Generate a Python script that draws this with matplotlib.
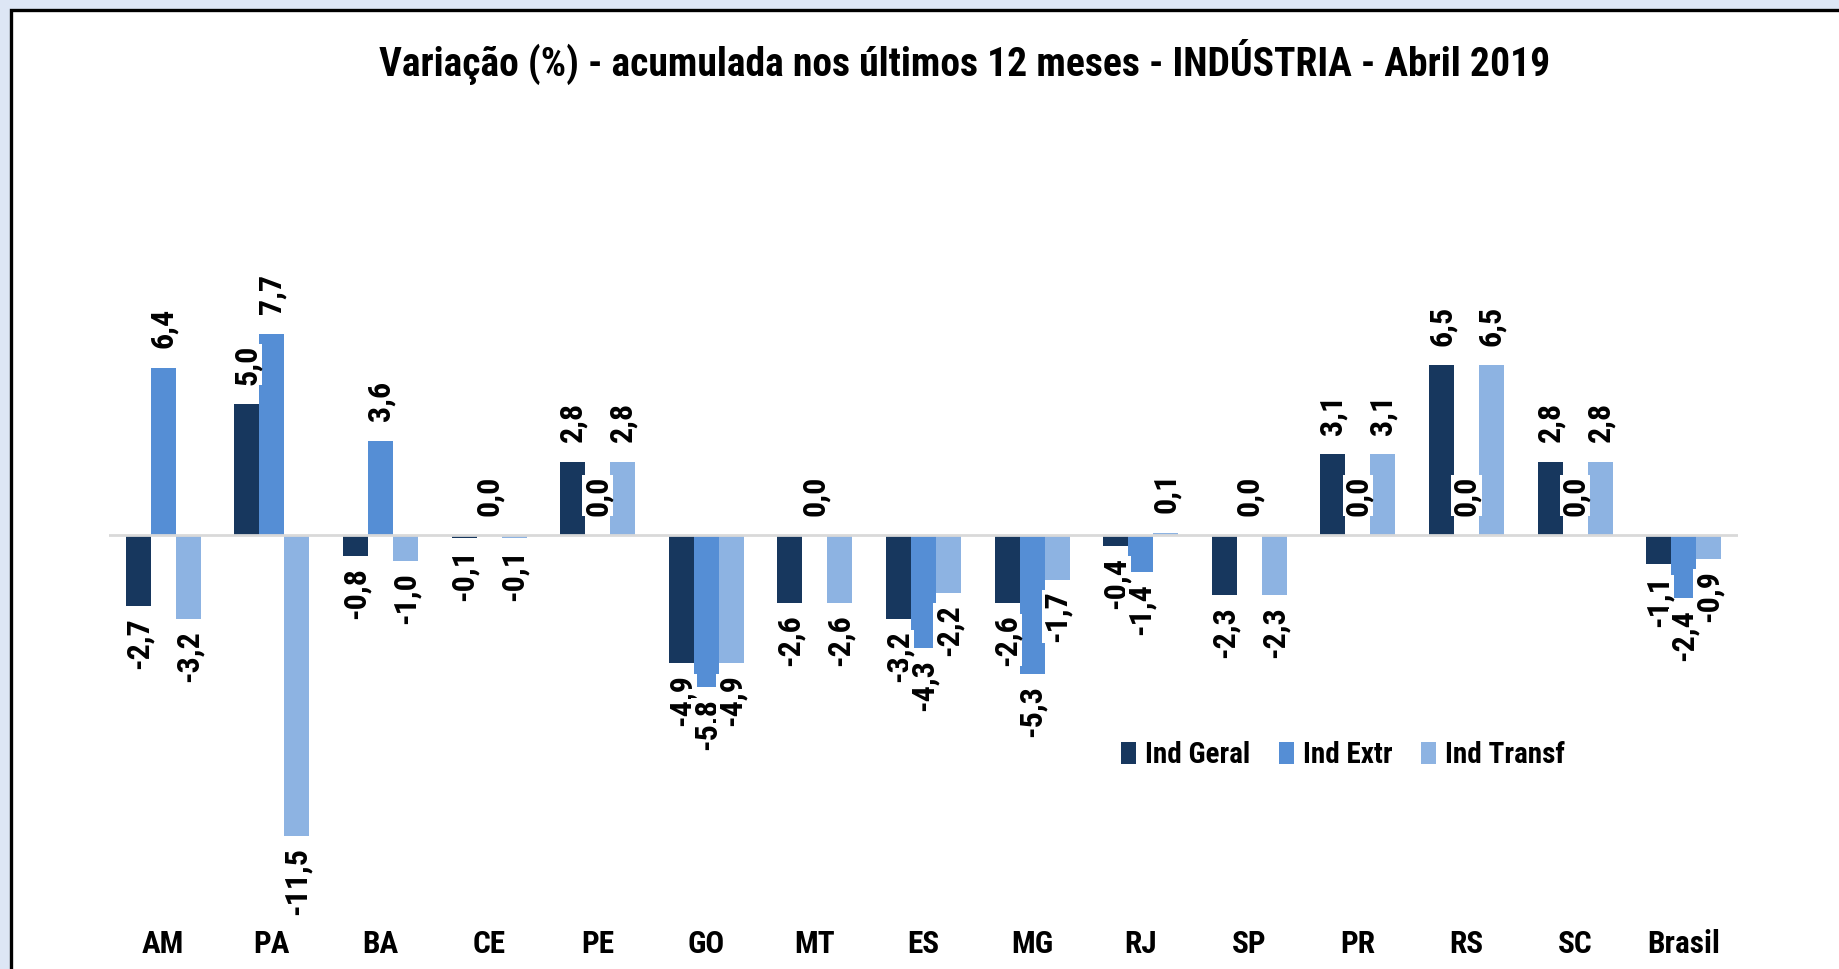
import numpy as np
import matplotlib
matplotlib.use("Agg")
import matplotlib.pyplot as plt
from matplotlib.patches import Rectangle

# dados (variação % acumulada em 12 meses)
estados = ["AM", "PA", "BA", "CE", "PE", "GO", "MT", "ES", "MG", "RJ", "SP", "PR", "RS", "SC", "Brasil"]
ind_geral = [-2.7, 5.0, -0.8, -0.1, 2.8, -4.9, -2.6, -3.2, -2.6, -0.4, -2.3, 3.1, 6.5, 2.8, -1.1]
ind_extr = [6.4, 7.7, 3.6, 0.0, 0.0, -5.8, 0.0, -4.3, -5.3, -1.4, 0.0, 0.0, 0.0, 0.0, -2.4]
ind_transf = [-3.2, -11.5, -1.0, -0.1, 2.8, -4.9, -2.6, -2.2, -1.7, 0.1, -2.3, 3.1, 6.5, 2.8, -0.9]

series = ["Ind Geral", "Ind Extr", "Ind Transf"]
cores = ["#17375e", "#558ed5", "#8db3e2"]

plt.rcParams['font.family'] = ['Liberation Sans Narrow', 'Roboto Condensed', 'Open Sans Condensed',
                               'Liberation Sans', 'DejaVu Sans']
plt.rcParams['font.stretch'] = 'condensed'

W, H = 1839, 969
fig = plt.figure(figsize=(W / 100, H / 100), dpi=100, facecolor="#dde6f5")

# moldura branca com borda preta (cortada à direita e embaixo)
fig.patches.append(Rectangle((11 / W, -0.1), 1.2, 1.1 - 10 / H, transform=fig.transFigure,
                             facecolor="white", edgecolor="black", linewidth=2.4, zorder=-1))

ax = fig.add_axes([109 / W, 1 - 925 / H, 1629 / W, 825 / H])
ax.set_facecolor("none")
ax.set_xlim(-0.5, len(estados) - 0.5)
ax.set_ylim(-14.9, 16.63)

x = np.arange(len(estados))
largura = 0.23
valores = [ind_geral, ind_extr, ind_transf]

for j, (nome, vals, cor) in enumerate(zip(series, valores, cores)):
    pos = x + (j - 1) * largura
    ax.bar(pos, vals, width=largura, color=cor, label=nome, zorder=2)
    for xi, v in zip(pos, vals):
        txt = f"{v:.1f}".replace(".", ",")
        if v >= 0:
            ax.annotate(txt, (xi, v), xytext=(0, 14), textcoords="offset points",
                        ha="center", va="bottom", rotation=90, fontsize=23, fontweight="bold",
                        bbox=dict(facecolor="white", edgecolor="none", pad=0.3), zorder=4)
        else:
            ax.annotate(txt, (xi, v), xytext=(0, -8), textcoords="offset points",
                        ha="center", va="top", rotation=90, fontsize=23, fontweight="bold",
                        bbox=dict(facecolor="white", edgecolor="none", pad=0.3), zorder=4)

ax.axhline(0, color="#d9d9d9", linewidth=2, zorder=3)

ax.set_xticks(x)
ax.set_xticklabels(estados, fontsize=22.5, fontweight="bold")
ax.tick_params(axis="x", length=0, pad=3)
ax.set_yticks([])
for s in ax.spines.values():
    s.set_visible(False)

fig.text(965 / W, 1 - 62 / H, "Variação (%) - acumulada nos últimos 12 meses - INDÚSTRIA - Abril 2019",
         ha="center", va="center", fontsize=28.5, fontweight="bold")

fig.legend(loc="center", bbox_to_anchor=(1343 / W, 1 - 755 / H), ncol=3, frameon=False,
           prop={"weight": "bold", "size": 21}, handlelength=0.5, handleheight=0.75,
           handletextpad=0.3, columnspacing=1.0)

fig.savefig("out.png", dpi=100, facecolor=fig.get_facecolor())
